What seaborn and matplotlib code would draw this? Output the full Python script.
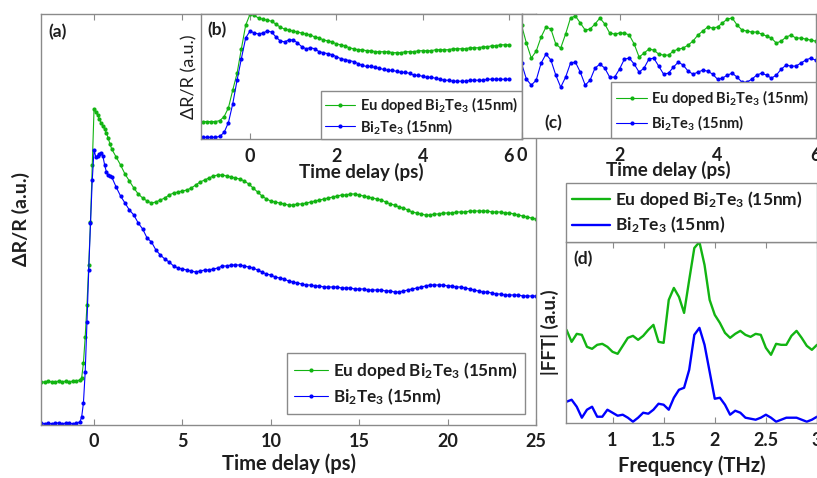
import numpy as np
import pandas as pd
import matplotlib
matplotlib.use("Agg")
import matplotlib.pyplot as plt
import seaborn as sns

sns.set_theme(style="white")
plt.rcParams["font.family"] = ["Lato", "DejaVu Sans"]
plt.rcParams["font.weight"] = "bold"
plt.rcParams["axes.labelweight"] = "bold"
plt.rcParams["mathtext.fontset"] = "custom"
plt.rcParams["mathtext.rm"] = "Lato"
plt.rcParams["mathtext.bf"] = "Lato:bold"
plt.rcParams["mathtext.default"] = "bf"

GREEN = "#12b412"
BLUE = "#0000ff"
EDGE = "#8a8a8a"
INK = "#1e1e1e"

LBL_EU = r"Eu doped Bi$_2$Te$_3$ (15nm)"
LBL_BT = r"Bi$_2$Te$_3$ (15nm)"
SAMPLES = [LBL_EU, LBL_BT]

# ---- (a) full transient, 25 ps window ----
delay_a = np.concatenate([np.linspace(-3.0, -0.8, 12),
                          np.linspace(-0.7, 1.0, 18),
                          np.linspace(1.25, 25.0, 96)])
eu_a = [0.43, 0.43, 0.44, 0.43, 0.43, 0.44, 0.43, 0.44, 0.43, 0.44, 0.44, 0.45,
        0.47, 0.62, 0.88, 1.20, 1.60, 2.03, 2.60, 3.16, 3.13, 3.10, 3.06, 3.02,
        2.99, 2.96, 2.92, 2.87, 2.81, 2.76,
        2.68, 2.60, 2.51, 2.44, 2.37, 2.31, 2.27, 2.24,
        2.22, 2.23, 2.25, 2.27, 2.30, 2.32, 2.33, 2.34,
        2.35, 2.37, 2.40, 2.43, 2.45, 2.47, 2.49, 2.50,
        2.50, 2.49, 2.48, 2.47, 2.46, 2.44, 2.41, 2.37,
        2.33, 2.29, 2.26, 2.24, 2.23, 2.22, 2.21, 2.20,
        2.20, 2.21, 2.21, 2.22, 2.23, 2.24, 2.25, 2.26,
        2.27, 2.28, 2.29, 2.30, 2.30, 2.31, 2.31, 2.30,
        2.29, 2.28, 2.27, 2.26, 2.25, 2.23, 2.21, 2.20,
        2.18, 2.17, 2.15, 2.13, 2.12, 2.11, 2.10, 2.10,
        2.11, 2.11, 2.12, 2.12, 2.12, 2.13, 2.13, 2.13,
        2.14, 2.14, 2.14, 2.14, 2.14, 2.13, 2.13, 2.13,
        2.12, 2.12, 2.11, 2.10, 2.09, 2.08, 2.07, 2.06]
bt_a = [0.02, 0.01, 0.02, 0.01, 0.02, 0.02, 0.01, 0.02, 0.02, 0.01, 0.02, 0.03,
        0.08, 0.22, 0.53, 1.03, 1.55, 2.02, 2.45, 2.75, 2.68, 2.69, 2.71, 2.72,
        2.69, 2.60, 2.53, 2.50, 2.49, 2.48,
        2.38, 2.29, 2.22, 2.15, 2.10, 2.02, 1.96, 1.87,
        1.83, 1.75, 1.70, 1.66, 1.63, 1.59, 1.57, 1.56,
        1.55, 1.54, 1.53, 1.54, 1.55, 1.55, 1.56, 1.57,
        1.59, 1.59, 1.60, 1.60, 1.60, 1.59, 1.58, 1.57,
        1.55, 1.53, 1.51, 1.50, 1.48, 1.47, 1.46, 1.44,
        1.43, 1.42, 1.41, 1.40, 1.40, 1.39, 1.39, 1.38,
        1.38, 1.38, 1.38, 1.37, 1.37, 1.37, 1.36, 1.36,
        1.36, 1.35, 1.35, 1.35, 1.35, 1.34, 1.34, 1.33,
        1.33, 1.34, 1.35, 1.36, 1.37, 1.38, 1.39, 1.40,
        1.40, 1.40, 1.40, 1.39, 1.39, 1.38, 1.38, 1.37,
        1.36, 1.35, 1.34, 1.33, 1.33, 1.32, 1.31, 1.31,
        1.30, 1.30, 1.30, 1.30, 1.29, 1.29, 1.29, 1.29]

# ---- (b) first 6 ps ----
delay_b = np.linspace(-1.1, 6.0, 72)
eu_b = [0.18, 0.18, 0.18, 0.18, 0.19, 0.23, 0.32, 0.50, 0.67, 0.92, 1.16, 1.27,
        1.26, 1.23, 1.22, 1.21, 1.20, 1.17, 1.14, 1.12, 1.11, 1.10,
        1.09, 1.08, 1.07, 1.06, 1.04, 1.03, 1.01, 1.00, 0.99, 0.97,
        0.96, 0.95, 0.93, 0.92, 0.91, 0.91, 0.90, 0.90, 0.89, 0.89,
        0.89, 0.89, 0.88, 0.88, 0.88, 0.89, 0.89, 0.89, 0.90, 0.90,
        0.90, 0.90, 0.91, 0.91, 0.91, 0.91, 0.92, 0.92, 0.92, 0.92,
        0.93, 0.93, 0.93, 0.94, 0.94, 0.95, 0.95, 0.96, 0.96, 0.96]
bt_b = [0.02, 0.02, 0.02, 0.02, 0.03, 0.07, 0.17, 0.36, 0.60, 0.82, 1.03, 1.10,
        1.08, 1.07, 1.08, 1.10, 1.09, 1.04, 1.00, 0.99, 1.01, 1.01,
        0.98, 0.94, 0.92, 0.93, 0.92, 0.89, 0.88, 0.87, 0.86, 0.84,
        0.82, 0.81, 0.80, 0.79, 0.77, 0.75, 0.74, 0.74, 0.73, 0.72,
        0.71, 0.70, 0.70, 0.69, 0.68, 0.68, 0.67, 0.65, 0.65, 0.64,
        0.63, 0.63, 0.62, 0.61, 0.60, 0.60, 0.59, 0.59, 0.59, 0.59,
        0.60, 0.60, 0.60, 0.60, 0.61, 0.61, 0.61, 0.61, 0.61, 0.61]

# ---- (c) oscillatory residual ----
delay_c = np.linspace(0.0, 6.0, 61)
eu_c = [1.13, 0.95, 0.80, 0.87, 1.01, 1.11, 1.09, 0.94, 0.90, 1.04,
        1.20, 1.22, 1.15, 1.08, 1.09, 1.14, 1.20, 1.14, 1.05, 1.04,
        1.05, 1.05, 1.03, 0.94, 0.81, 0.85, 0.89, 0.88, 0.84, 0.83,
        0.83, 0.87, 0.89, 0.90, 0.93, 0.97, 1.03, 1.07, 1.11, 1.10,
        1.11, 1.15, 1.19, 1.20, 1.13, 1.08, 1.07, 1.06, 1.06, 1.04,
        1.02, 1.00, 0.95, 0.97, 1.01, 1.03, 1.00, 1.00, 0.99, 0.98,
        0.97]
bt_c = [0.75, 0.59, 0.53, 0.58, 0.75, 0.84, 0.78, 0.63, 0.51, 0.61,
        0.75, 0.76, 0.66, 0.53, 0.58, 0.70, 0.74, 0.70, 0.61, 0.61,
        0.69, 0.79, 0.80, 0.74, 0.66, 0.70, 0.79, 0.80, 0.72, 0.64,
        0.65, 0.71, 0.76, 0.73, 0.67, 0.64, 0.66, 0.68, 0.67, 0.64,
        0.59, 0.60, 0.63, 0.65, 0.61, 0.56, 0.56, 0.59, 0.63, 0.65,
        0.63, 0.60, 0.63, 0.69, 0.73, 0.72, 0.72, 0.75, 0.78, 0.80,
        0.78]

# ---- (d) FFT amplitude ----
freq_d = np.linspace(0.55, 3.0, 50)
eu_d = [0.93, 0.81, 0.89, 0.88, 0.76, 0.74, 0.78, 0.79, 0.76, 0.71,
        0.69, 0.77, 0.85, 0.87, 0.83, 0.87, 0.93, 0.98, 0.81, 0.80,
        1.23, 1.35, 1.26, 1.10, 1.43, 1.75, 1.81, 1.58, 1.23, 1.08,
        1.00, 0.90, 0.85, 0.89, 0.92, 0.88, 0.86, 0.89, 0.88, 0.75,
        0.68, 0.79, 0.78, 0.78, 0.87, 0.92, 0.85, 0.77, 0.73, 0.78]
bt_d = [0.21, 0.23, 0.16, 0.05, 0.13, 0.16, 0.06, 0.06, 0.13, 0.10,
        0.07, 0.08, 0.05, 0.01, 0.05, 0.10, 0.09, 0.13, 0.19, 0.18,
        0.13, 0.25, 0.33, 0.35, 0.53, 0.88, 0.95, 0.78, 0.51, 0.24,
        0.25, 0.18, 0.08, 0.12, 0.10, 0.05, 0.04, 0.03, 0.05, 0.08,
        0.05, 0.01, 0.03, 0.05, 0.05, 0.05, 0.03, 0.01, 0.03, 0.06]

palette = {LBL_EU: GREEN, LBL_BT: BLUE}


def long_frame(x, eu, bt, xname):
    return pd.DataFrame({
        xname: np.concatenate([x, x]),
        "signal": np.concatenate([eu, bt]),
        "sample": [LBL_EU] * len(x) + [LBL_BT] * len(x),
    })


def style_axes(ax, xticks, labelsize, pad):
    for s in ax.spines.values():
        s.set_visible(True)
        s.set_color(EDGE)
        s.set_linewidth(1.0)
    ax.set_xticks(xticks)
    ax.tick_params(axis="x", which="both", direction="in", top=True, bottom=True,
                   length=4, width=0.8, color=EDGE, labelsize=labelsize,
                   labelcolor=INK, pad=pad)
    ax.tick_params(axis="y", left=False, right=False, labelleft=False)
    ax.set_ylabel("")
    for t in ax.get_xticklabels():
        t.set_fontweight("bold")


def draw_traces(ax, df, xname, markers=True, lw=0.8, ms=3.0):
    kw = dict(marker="o", markersize=ms, markeredgewidth=0) if markers else {}
    sns.lineplot(data=df, x=xname, y="signal", hue="sample", hue_order=SAMPLES,
                 palette=palette, linewidth=lw, estimator=None, sort=False,
                 legend=False, ax=ax, **kw)
    return ax.get_lines()[:2]


def add_legend(ax, handles, fontsize, **kw):
    leg = ax.legend(handles, SAMPLES, frameon=True, fancybox=False,
                    framealpha=1.0, edgecolor=EDGE, fontsize=fontsize,
                    handletextpad=0.3, **kw)
    leg.get_frame().set_linewidth(1.0)
    for t in leg.get_texts():
        t.set_color(INK)
    return leg


W, H = 817, 478
fig = plt.figure(figsize=(W / 100, H / 100), dpi=100)
fig.patch.set_facecolor("white")


def rect(x0, y0, x1, y1):
    return [x0 / W, 1 - y1 / H, (x1 - x0) / W, (y1 - y0) / H]


# (a) main panel
ax_a = fig.add_axes(rect(41, 14, 536, 425))
h = draw_traces(ax_a, long_frame(delay_a, eu_a, bt_a, "delay"), "delay")
ax_a.set_xlim(-3, 25)
ax_a.set_ylim(0, 4.11)
style_axes(ax_a, [0, 5, 10, 15, 20, 25], 13, 6)
ax_a.set_xlabel("Time delay (ps)", fontsize=14.5, color=INK)
ax_a.xaxis.set_label_coords(0.5, -0.07)
ax_a.set_ylabel("ΔR/R (a.u.)", fontsize=14, color=INK, labelpad=8)
add_legend(ax_a, h, 12.3, loc="lower right", bbox_to_anchor=(0.978, 0.027),
           borderaxespad=0, handlelength=2.0, labelspacing=0.35, borderpad=0.4)
ax_a.text(0.034, 0.956, "(a)", transform=ax_a.transAxes, ha="center",
          va="center", fontsize=12.5, fontweight="bold", color=INK)

# (b) early-time inset
ax_b = fig.add_axes(rect(200.5, 14.3, 521.5, 139.3))
ax_b.set_facecolor("white")
h = draw_traces(ax_b, long_frame(delay_b, eu_b, bt_b, "delay"), "delay")
ax_b.set_xlim(-1.147, 6.29)
ax_b.set_ylim(0, 1.27)
style_axes(ax_b, [0, 2, 4, 6], 13, 6)
ax_b.set_xlabel("Time delay (ps)", fontsize=13.5, color=INK)
ax_b.xaxis.set_label_coords(0.5, -0.185)
ax_b.set_ylabel("ΔR/R (a.u.)", fontsize=13, fontweight="normal", color=INK,
                labelpad=2)
add_legend(ax_b, h, 10.5, loc="lower right", bbox_to_anchor=(1, 0),
           borderaxespad=0, handlelength=2.1, labelspacing=0.15, borderpad=0.25)
ax_b.text(0.051, 0.874, "(b)", transform=ax_b.transAxes, ha="center",
          va="center", fontsize=12.5, fontweight="bold", color=INK)

# (c) oscillatory component inset
ax_c = fig.add_axes(rect(521.5, 14, 815.5, 138.3))
ax_c.set_facecolor("white")
h = draw_traces(ax_c, long_frame(delay_c, eu_c, bt_c, "delay"), "delay")
ax_c.set_xlim(0, 6)
ax_c.set_ylim(0, 1.24)
style_axes(ax_c, [0, 2, 4, 6], 13, 6)
ax_c.set_xlabel("Time delay (ps)", fontsize=13.5, color=INK)
ax_c.xaxis.set_label_coords(0.5, -0.185)
add_legend(ax_c, h, 10.5, loc="lower right", bbox_to_anchor=(1, 0),
           borderaxespad=0, handlelength=2.1, labelspacing=0.4, borderpad=0.4)
ax_c.text(0.108, 0.121, "(c)", transform=ax_c.transAxes, ha="center",
          va="center", fontsize=12.5, fontweight="bold", color=INK)

# (d) FFT spectrum
ax_d = fig.add_axes(rect(566, 241.5, 817, 422.7))
ax_d.set_facecolor("white")
h = draw_traces(ax_d, long_frame(freq_d, eu_d, bt_d, "freq"), "freq",
                markers=False, lw=1.7)
ax_d.set_xlim(0.545, 3.0)
ax_d.set_ylim(0, 1.815)
style_axes(ax_d, [1, 1.5, 2, 2.5, 3], 13, 7)
ax_d.set_xticklabels(["1", "1.5", "2", "2.5", "3"])
for t in ax_d.get_xticklabels():
    t.set_fontweight("bold")
ax_d.set_xlabel("Frequency (THz)", fontsize=14.5, color=INK)
ax_d.xaxis.set_label_coords(0.5, -0.18)
ax_d.set_ylabel("|FFT| (a.u.)", fontsize=13.5, color=INK, labelpad=5)
add_legend(ax_d, h, 12.5, loc="lower left", bbox_to_anchor=(0, 1, 1, 0.327),
           mode="expand", borderaxespad=0, handlelength=2.2,
           labelspacing=0.3, borderpad=0.35)
ax_d.text(0.068, 0.903, "(d)", transform=ax_d.transAxes, ha="center",
          va="center", fontsize=12.5, fontweight="bold", color=INK)

fig.savefig("out.png", dpi=100, facecolor="white")
